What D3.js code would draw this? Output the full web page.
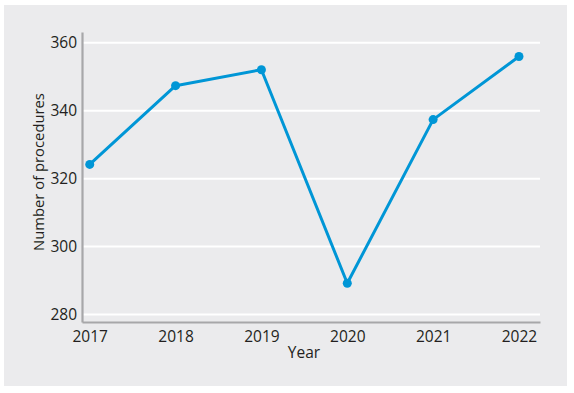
<!DOCTYPE html>
<html>
<head>
<meta charset="utf-8">
<script src="https://cdn.jsdelivr.net/npm/d3@7"></script>
<style>
  body { margin: 0; background: #fff; }
  text { font-family: "Open Sans", sans-serif; fill: #231f20; }
</style>
</head>
<body>
<div id="chart-area"></div>
<script>
// data
let years = [2017, 2018, 2019, 2020, 2021, 2022];
let procedures = [324.2, 347.4, 352.1, 289.2, 337.4, 356];
let yTicks = [280, 300, 320, 340, 360];

let W = 574, H = 393;
let margin = {top: 32, right: 34, bottom: 71, left: 82};
let width = W - margin.left - margin.right,
    height = H - margin.top - margin.bottom;

let root = d3.select("#chart-area").append("svg")
    .attr("width", W)
    .attr("height", H);

// grey panel
root.append("rect")
    .attr("x", 4).attr("y", 5)
    .attr("width", 563).attr("height", 381)
    .attr("fill", "#ebebed");

let svg = root.append("g")
    .attr("transform", "translate(" + margin.left + "," + margin.top + ")");

// Scales
let x = d3.scaleLinear()
    .domain([2016.91, 2022.245])
    .range([0, width]);

let y = d3.scaleLinear()
    .domain([277.8, 363.2])
    .range([height, 0]);

// gridlines
svg.selectAll(".grid")
    .data(yTicks)
  .enter().append("line")
    .attr("class", "grid")
    .attr("x1", 0).attr("x2", width)
    .attr("y1", d => y(d)).attr("y2", d => y(d))
    .attr("stroke", "#fff")
    .attr("stroke-width", 2);

// axes
let yAxis = d3.axisLeft(y).tickValues(yTicks).tickSize(0).tickPadding(5);
let xAxis = d3.axisBottom(x).tickValues(years).tickFormat(d3.format("d")).tickSize(0).tickPadding(9);

let gy = svg.append("g").call(yAxis);
let gx = svg.append("g").attr("transform", "translate(0," + height + ")").call(xAxis);

[gx, gy].forEach(g => {
  g.select(".domain").attr("stroke", "#a7a7a9").attr("stroke-width", 2.2);
  g.selectAll("text")
    .style("font-family", "'Open Sans', sans-serif")
    .style("font-size", "15.5px")
    .attr("fill", "#231f20");
});

// line + points
let line = d3.line()
    .x((d, i) => x(years[i]))
    .y(d => y(d));

svg.append("path")
    .datum(procedures)
    .attr("d", line)
    .attr("fill", "none")
    .attr("stroke", "#0096d6")
    .attr("stroke-width", 3)
    .attr("stroke-linejoin", "round");

svg.selectAll(".dot")
    .data(procedures)
  .enter().append("circle")
    .attr("class", "dot")
    .attr("cx", (d, i) => x(years[i]))
    .attr("cy", d => y(d))
    .attr("r", 4.5)
    .attr("fill", "#0096d6");

// axis titles
svg.append("text")
    .attr("x", 222)
    .attr("y", height + 36)
    .attr("text-anchor", "middle")
    .style("font-size", "15.5px")
    .text("Year");

svg.append("text")
    .attr("transform", "translate(" + (-38) + "," + (height / 2 - 5) + ") rotate(-90)")
    .attr("text-anchor", "middle")
    .style("font-size", "14.8px")
    .text("Number of procedures");
</script>
</body>
</html>
